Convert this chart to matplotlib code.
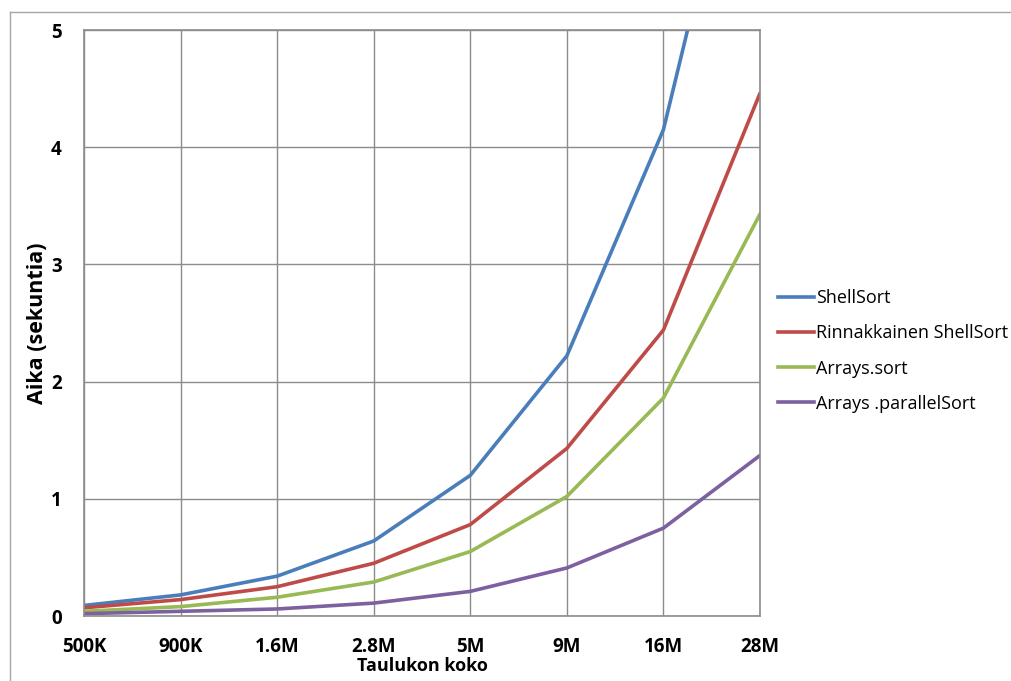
import matplotlib.pyplot as plt
from matplotlib.lines import Line2D

plt.rcParams["font.family"] = ["Open Sans", "DejaVu Sans"]

sizes = ["500K", "900K", "1.6M", "2.8M", "5M", "9M", "16M", "28M"]
shell = [0.09, 0.18, 0.34, 0.64, 1.20, 2.22, 4.15, 7.55]
par_shell = [0.07, 0.14, 0.25, 0.45, 0.78, 1.43, 2.44, 4.46]
arrays_sort = [0.04, 0.08, 0.16, 0.29, 0.55, 1.02, 1.86, 3.43]
par_sort = [0.02, 0.04, 0.06, 0.11, 0.21, 0.41, 0.75, 1.37]

series = [
    ("ShellSort", shell, "#4A7EBB"),
    ("Rinnakkainen ShellSort", par_shell, "#BE4B48"),
    ("Arrays.sort", arrays_sort, "#98B954"),
    ("Arrays .parallelSort", par_sort, "#7D60A0"),
]

fig = plt.figure(figsize=(10.12, 6.81), dpi=100)
ax = fig.add_axes([84 / 1012, 65 / 681, 676 / 1012, 586 / 681])

x = range(len(sizes))
for name, vals, col in series:
    ax.plot(x, vals, color=col, lw=2.6, label=name, solid_capstyle="round")

ax.set_xlim(0, len(sizes) - 1)
ax.set_ylim(0, 5)
ax.set_xticks(list(x))
ax.set_xticklabels(sizes, fontsize=13.5, fontweight="bold")
ax.set_yticks(range(6))
ax.set_yticklabels([str(i) for i in range(6)], fontsize=13.5, fontweight="bold")
ax.tick_params(axis="x", length=0, pad=15)
ax.tick_params(axis="y", length=0, pad=16)
ax.grid(True, color="#8c8c8c", lw=1)
ax.set_axisbelow(True)
for s in ax.spines.values():
    s.set_color("#8c8c8c")
    s.set_linewidth(1.2)

ax.set_xlabel("Taulukon koko", fontsize=13, fontweight="bold", labelpad=0)
ax.set_ylabel("Aika (sekuntia)", fontsize=15.5, fontweight="bold", labelpad=2)

handles = [Line2D([], [], color=c, lw=2.6) for _, _, c in series]
fig.legend(handles, [n for n, _, _ in series], loc="upper left",
           bbox_to_anchor=(762 / 1012, 1 - 273 / 681), frameon=False,
           fontsize=13, handlelength=2.0, handletextpad=0.1, labelspacing=0.95)

# outer chart border
fig.add_artist(Line2D([10 / 1012, 10 / 1012], [0, 1 - 12 / 681],
                      transform=fig.transFigure, color="#a6a6a6", lw=1))
fig.add_artist(Line2D([10 / 1012, 1], [1 - 12 / 681, 1 - 12 / 681],
                      transform=fig.transFigure, color="#a6a6a6", lw=1))

fig.savefig("out.png", dpi=100)
